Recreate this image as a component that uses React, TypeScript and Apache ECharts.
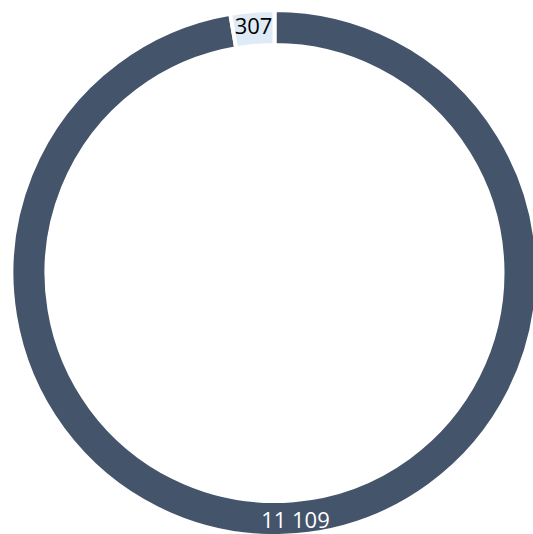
import React, { useEffect, useRef } from "react";
import * as echarts from "echarts";

const categories = ["Group A", "Group B"];
const values = [11109, 307];
const labels = ["11 109", "307"];
const colors = ["#44546a", "#deebf7"];
const labelColors = ["#ffffff", "#000000"];

export default function App() {
  const ref = useRef<HTMLDivElement>(null);
  useEffect(() => {
    if (!ref.current) return;
    const chart = echarts.init(ref.current, null, { renderer: "svg" });
    chart.setOption({
      animation: false,
      backgroundColor: "#ffffff",
      series: [
        {
          type: "pie",
          center: [274.5, 273],
          radius: [228, 263],
          startAngle: 90,
          clockwise: true,
          avoidLabelOverlap: false,
          label: {
            show: true,
            position: "inside",
            fontFamily: "Open Sans",
            fontSize: 22,
            lineHeight: 18,
            formatter: (p: any) => labels[p.dataIndex],
          },
          labelLine: { show: false },
          emphasis: { disabled: true },
          data: categories.map((c, i) => ({
            name: c,
            value: values[i],
            itemStyle: { color: colors[i], borderColor: "#ffffff", borderWidth: 4 },
            label: { color: labelColors[i], offset: i === 0 ? [0, -2] : [0, 0] },
          })),
        },
      ],
    });
    return () => chart.dispose();
  }, []);
  return (
    <div
      ref={ref}
      style={{ position: "absolute", left: 0, top: 0, width: 533, height: 534 }}
    />
  );
}
